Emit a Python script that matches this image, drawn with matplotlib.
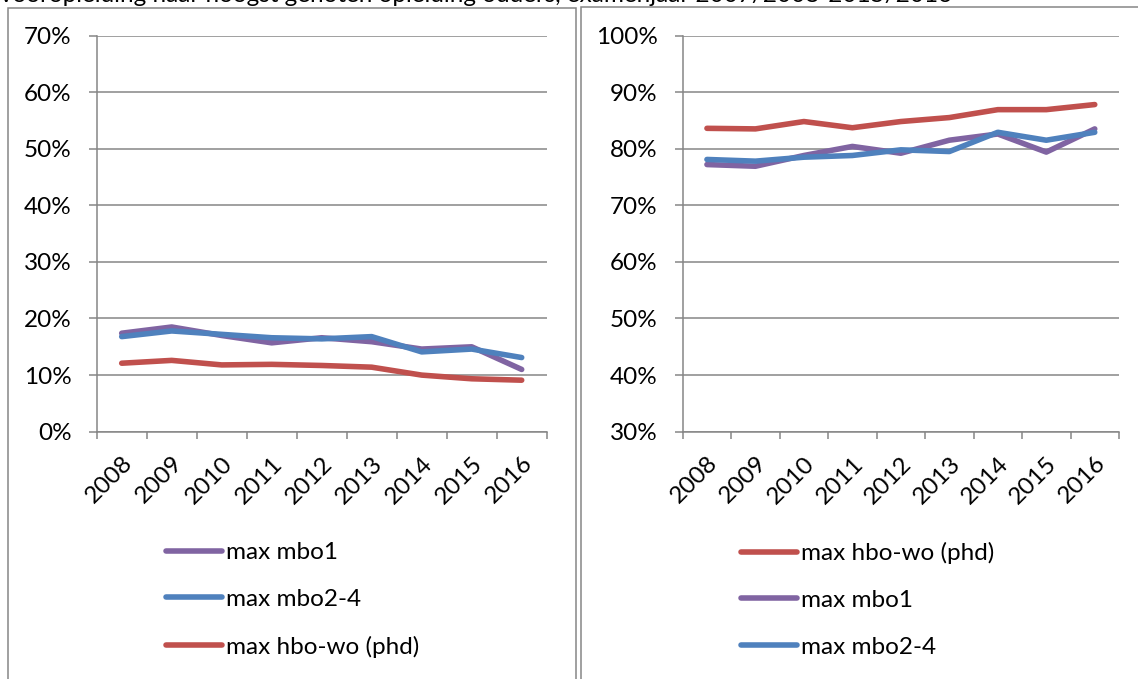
import matplotlib
matplotlib.use('Agg')
from matplotlib import pyplot as plt
from matplotlib.patches import Rectangle
from matplotlib.ticker import FixedLocator, FuncFormatter

plt.rcParams['font.family'] = ['Lato', 'DejaVu Sans']

years = ['2008', '2009', '2010', '2011', '2012', '2013', '2014', '2015', '2016']

# linker grafiek (percentages)
left_mbo1 = [17.4, 18.5, 17.0, 15.7, 16.6, 15.9, 14.6, 15.0, 11.0]
left_mbo24 = [16.8, 17.8, 17.2, 16.6, 16.4, 16.8, 14.1, 14.6, 13.1]
left_hbowo = [12.1, 12.6, 11.8, 11.9, 11.7, 11.4, 10.0, 9.35, 9.1]

# rechter grafiek (percentages)
right_hbowo = [83.6, 83.5, 84.8, 83.7, 84.8, 85.5, 86.9, 86.9, 87.8]
right_mbo1 = [77.2, 76.9, 78.8, 80.4, 79.2, 81.5, 82.6, 79.4, 83.5]
right_mbo24 = [78.1, 77.8, 78.5, 78.8, 79.8, 79.5, 82.9, 81.5, 82.9]

title = 'vooropleiding naar hoogst genoten opleiding ouders, examenjaar 2007/2008-2015/2016'

purple = '#8064A2'
blue = '#4F81BD'
red = '#C0504D'
grey = '#868686'
fs = 17.5

W, H = 1138, 679
fig = plt.figure(figsize=(W / 100, H / 100), dpi=100)


def fx(px):
    return px / W


def fy(py):
    return 1 - py / H


# kaders rond de twee grafieken
fig.patches.append(Rectangle((fx(8.3), fy(690)), fx(575.7 - 8.3), fy(8.3) - fy(690),
                             transform=fig.transFigure, fill=False, ec=grey, lw=1.1))
fig.patches.append(Rectangle((fx(581), fy(690)), fx(1150 - 581), fy(7) - fy(690),
                             transform=fig.transFigure, fill=False, ec=grey, lw=1.1))

fig.text(0.0, fy(2.5), title, fontsize=fs, va='baseline', ha='left')


def style_axes(ax, ymin, ymax):
    x = list(range(len(years)))
    ax.set_xlim(-0.5, len(years) - 0.5)
    ax.set_ylim(ymin, ymax)
    ax.set_yticks(range(ymin, ymax + 1, 10))
    ax.yaxis.set_major_formatter(FuncFormatter(lambda v, p: '%d%%' % v))
    ax.yaxis.grid(True, color=grey, lw=1.1)
    ax.set_axisbelow(True)
    for s in ['top', 'right']:
        ax.spines[s].set_visible(False)
    for s in ['left', 'bottom']:
        ax.spines[s].set_color(grey)
        ax.spines[s].set_linewidth(1.1)
    ax.tick_params(axis='y', direction='out', length=6, width=1.1, color=grey,
                   pad=12, labelsize=fs)
    ax.set_xticks(x)
    ax.set_xticklabels(years, rotation=45, ha='right', va='top', rotation_mode='anchor')
    ax.tick_params(axis='x', which='major', length=0, pad=15, labelsize=fs)
    ax.xaxis.set_minor_locator(FixedLocator([i - 0.5 for i in range(len(years) + 1)]))
    ax.tick_params(axis='x', which='minor', direction='out', length=5, width=1.1, color=grey)


def add_legend(ax, left_px):
    ax.legend(loc='upper left', bbox_to_anchor=(fx(left_px), fy(542)),
              bbox_transform=fig.transFigure, frameon=False, fontsize=fs,
              handlelength=2.3, handletextpad=0.18, labelspacing=1.06,
              borderpad=0, borderaxespad=0)


x = range(len(years))

ax1 = fig.add_axes([fx(96.7), fy(431.7), fx(546.7 - 96.7), fy(35.5) - fy(431.7)])
style_axes(ax1, 0, 70)
ax1.plot(x, left_mbo1, color=purple, lw=4, solid_capstyle='round', label='max mbo1')
ax1.plot(x, left_mbo24, color=blue, lw=4, solid_capstyle='round', label='max mbo2-4')
ax1.plot(x, left_hbowo, color=red, lw=4, solid_capstyle='round', label='max hbo-wo (phd)')
add_legend(ax1, 166)

ax2 = fig.add_axes([fx(682.7), fy(431.7), fx(1119 - 682.7), fy(35.5) - fy(431.7)])
style_axes(ax2, 30, 100)
ax2.plot(x, right_hbowo, color=red, lw=4, solid_capstyle='round', label='max hbo-wo (phd)')
ax2.plot(x, right_mbo1, color=purple, lw=4, solid_capstyle='round', label='max mbo1')
ax2.plot(x, right_mbo24, color=blue, lw=4, solid_capstyle='round', label='max mbo2-4')
add_legend(ax2, 741)

fig.savefig('out.png', dpi=100)
